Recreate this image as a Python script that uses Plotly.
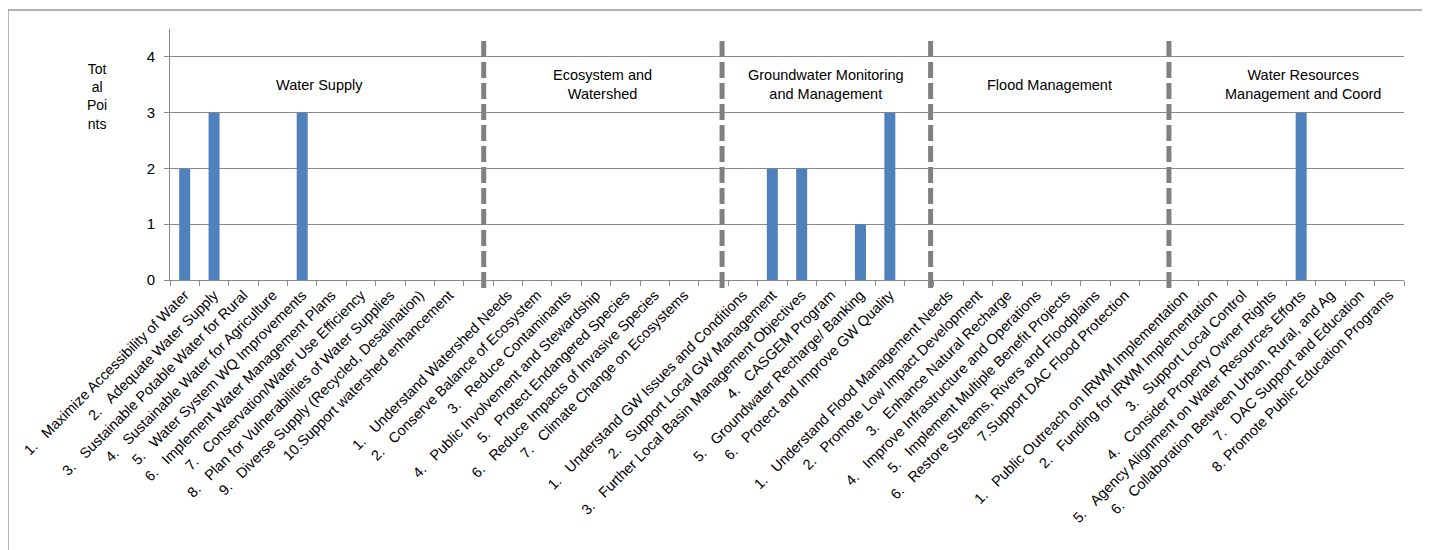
import plotly.graph_objects as go

NB = "\u00a0\u00a0\u00a0"

group_names = [
    "Water Supply",
    "Ecosystem and<br>Watershed",
    "Groundwater Monitoring<br>and Management",
    "Flood Management",
    "Water Resources<br>Management and Coord",
]

water_supply = [
    "1." + NB + "Maximize Accessibility of Water",
    "2." + NB + "Adequate Water Supply",
    "3." + NB + "Sustainable Potable Water for Rural",
    "4." + NB + "Sustainable Water for Agriculture",
    "5." + NB + "Water System WQ Improvements",
    "6." + NB + "Implement Water Management Plans",
    "7." + NB + "Conservation/Water Use Efficiency",
    "8." + NB + "Plan for Vulnerabilities of Water Supplies",
    "9." + NB + "Diverse Supply (Recycled, Desalination)",
    "10.Support watershed enhancement",
]
water_supply_pts = [2, 3, 0, 0, 3, 0, 0, 0, 0, 0]

ecosystem = [
    "1." + NB + "Understand Watershed Needs",
    "2." + NB + "Conserve Balance of Ecosystem",
    "3." + NB + "Reduce Contaminants",
    "4." + NB + "Public Involvement and Stewardship",
    "5." + NB + "Protect Endangered Species",
    "6." + NB + "Reduce Impacts of Invasive Species",
    "7." + NB + "Climate Change on Ecosystems",
]
ecosystem_pts = [0, 0, 0, 0, 0, 0, 0]

groundwater = [
    "1." + NB + "Understand GW Issues and Conditions",
    "2." + NB + "Support Local GW Management",
    "3." + NB + "Further Local Basin Management Objectives",
    "4." + NB + "CASGEM Program",
    "5." + NB + "Groundwater Recharge/ Banking",
    "6." + NB + "Protect and Improve GW Quality",
]
groundwater_pts = [0, 2, 2, 0, 1, 3]

flood = [
    "1." + NB + "Understand Flood Management Needs",
    "2." + NB + "Promote Low Impact Development",
    "3." + NB + "Enhance Natural Recharge",
    "4." + NB + "Improve Infrastructure and Operations",
    "5." + NB + "Implement Multiple Benefit Projects",
    "6." + NB + "Restore Streams, Rivers and Floodplains",
    "7.Support DAC Flood Protection",
]
flood_pts = [0, 0, 0, 0, 0, 0, 0]

resources = [
    "1." + NB + "Public Outreach on IRWM Implementation",
    "2." + NB + "Funding for IRWM Implementation",
    "3." + NB + "Support Local Control",
    "4." + NB + "Consider Property Owner Rights",
    "5." + NB + "Agency Alignment on Water Resources Efforts",
    "6." + NB + "Collaboration Between Urban, Rural, and Ag",
    "7." + NB + "DAC Support and Education",
    "8. Promote Public Education Programs",
]
resources_pts = [0, 0, 0, 0, 3, 0, 0, 0]

groups = [
    (water_supply, water_supply_pts),
    (ecosystem, ecosystem_pts),
    (groundwater, groundwater_pts),
    (flood, flood_pts),
    (resources, resources_pts),
]

# flatten, with an empty slot between groups (where the dashed separator sits)
cats, vals, centers, blanks = [], [], [], []
for i, (labels, pts) in enumerate(groups):
    start = len(cats)
    cats += labels
    vals += pts
    centers.append(start + (len(labels) - 1) / 2)
    if i < len(groups) - 1:
        blanks.append(len(cats))
        cats.append(" " * (i + 1))
        vals.append(None)

FONT = "Liberation Sans, Arial, sans-serif"
GRID = "#8a8a8a"

fig = go.Figure()
fig.add_trace(go.Bar(
    x=cats, y=vals,
    marker=dict(color="#4F81BD", line=dict(width=0)),
    hoverinfo="x+y",
))

# dashed separators + group titles sit on an overlaid linear axis, like the original
for b in blanks:
    fig.add_shape(type="line", xref="x2", yref="paper",
                  x0=b, x1=b, y0=-0.032, y1=0.968,
                  line=dict(color="#808080", width=5, dash="16px,5px"))

for name, c in zip(group_names, centers):
    fig.add_annotation(x=c, y=3.5, xref="x2", yref="y", text=name,
                       showarrow=False, font=dict(size=14.5, color="#000"))

fig.add_annotation(x=-0.059, y=0.73, xref="paper", yref="paper",
                   text="Tot<br>al<br>Poi<br>nts", showarrow=False,
                   xanchor="center", yanchor="middle",
                   font=dict(size=14, color="#000"))

# outer chart border
fig.add_shape(type="rect", xref="paper", yref="paper",
              x0=-0.1313, x1=1.0186, y0=-1.2, y1=1.0757,
              line=dict(color="#9a9a9a", width=1.5))

# the page body adds an 8px offset, so margins are reduced by that amount
fig.update_layout(
    width=1430, height=550,
    margin=dict(l=162, r=34, t=21, b=278),
    paper_bgcolor="white", plot_bgcolor="white",
    showlegend=False, bargap=0.626,
    font=dict(family=FONT, color="#000"),
    xaxis=dict(type="category", tickson="boundaries", ticks="outside",
               ticklen=5, tickcolor=GRID, tickangle=-45,
               tickfont=dict(size=14.5), showline=True, linecolor=GRID,
               showgrid=False),
    xaxis2=dict(type="linear", overlaying="x", range=[-0.53, 40.89],
                showgrid=False, showticklabels=False, ticks="",
                showline=False, zeroline=False),
    yaxis=dict(range=[0, 4.5], dtick=1, showgrid=True, gridcolor=GRID,
               ticks="outside", ticklen=5, tickcolor=GRID,
               showline=True, linecolor=GRID, zeroline=False,
               tickfont=dict(size=15), ticklabelstandoff=6),
)

fig.write_html("out.html")
